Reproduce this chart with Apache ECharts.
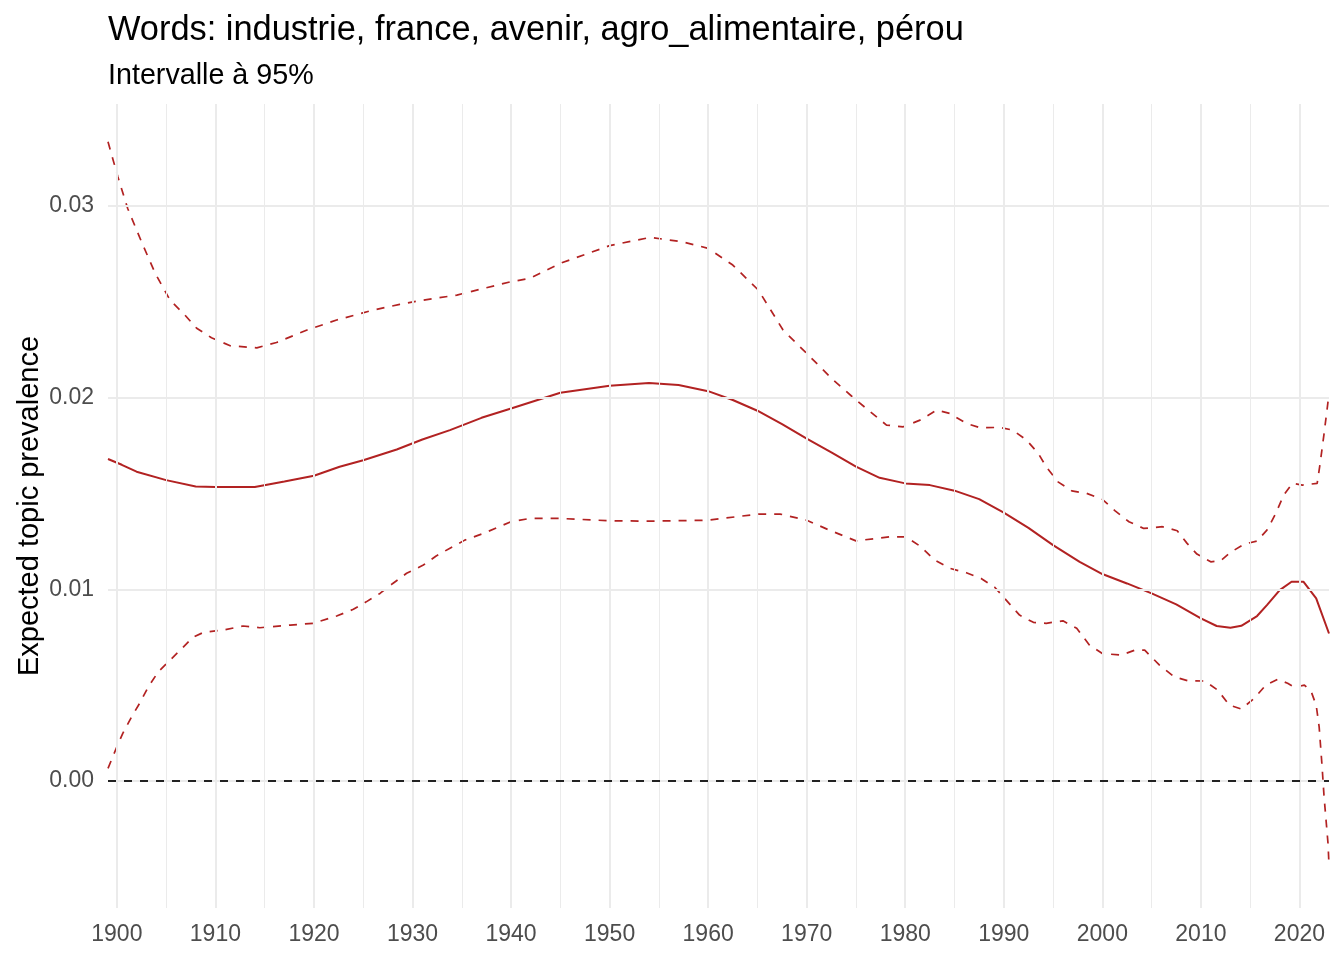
<!DOCTYPE html>
<html><head><meta charset="utf-8">
<script src="https://cdn.jsdelivr.net/npm/echarts@6/dist/echarts.min.js"></script>
<style>html,body{margin:0;padding:0;background:#fff}#c{width:1344px;height:960px}</style>
</head><body><div id="c"></div>
<script>
const meanYears=[1899.1,1900.5,1902,1905,1908,1910,1914,1917,1920,1922.6,1925,1928.4,1931,1933.8,1937,1940,1945,1950,1954,1957,1960,1962.5,1965,1967.5,1970,1972.5,1975,1977.4,1980,1982.5,1985,1987.5,1990,1992.5,1995,1997.7,2000,2002.5,2005,2007.5,2010,2011.6,2013,2014.1,2015.7,2016.7,2018,2019.2,2020.4,2021.7,2023];
const meanVals=[0.01680,0.01650,0.01614,0.01570,0.01537,0.01534,0.01534,0.01563,0.01593,0.01640,0.01674,0.01730,0.01782,0.01831,0.01895,0.01944,0.02026,0.02062,0.02076,0.02066,0.02034,0.01988,0.01932,0.01862,0.01786,0.01715,0.01640,0.01582,0.01553,0.01544,0.01515,0.01471,0.01400,0.01321,0.01231,0.01144,0.01080,0.01031,0.00979,0.00922,0.00849,0.00809,0.00800,0.00810,0.00861,0.00918,0.00996,0.01040,0.01040,0.00953,0.00770];

const upperYears=[1899.1,1900.1,1901.1,1902.5,1903.9,1905.4,1906.9,1908.1,1909.6,1911.5,1914.2,1916.2,1919.3,1922.3,1925.7,1928.7,1931.1,1934.5,1937.2,1940,1941.9,1945,1948,1950,1954.1,1957.4,1960,1962.5,1965.1,1967.6,1970,1972.7,1975,1978.1,1979.8,1981.5,1983.2,1984.5,1986.2,1987.6,1989.6,1990.9,1992.3,1993.5,1994.3,1995.5,1996.9,1998.4,2000,2001.3,2002.7,2004.2,2006.1,2007.6,2008.6,2009.6,2011,2012,2013,2014.4,2015.7,2016.7,2017.6,2018.4,2019.3,2020.3,2021.8,2022.1,2022.5,2023];
const upperVals=[0.03335,0.03152,0.02987,0.02813,0.02648,0.02509,0.02431,0.02362,0.02313,0.02271,0.02260,0.02288,0.02353,0.02405,0.02453,0.02487,0.02509,0.02535,0.02570,0.02605,0.02622,0.02701,0.02756,0.02793,0.02836,0.02813,0.02779,0.02692,0.02561,0.02353,0.02231,0.02092,0.01988,0.01857,0.01848,0.01883,0.01935,0.01918,0.01866,0.01843,0.01845,0.01831,0.01779,0.01709,0.01640,0.01561,0.01514,0.01501,0.01470,0.01410,0.01353,0.01318,0.01327,0.01306,0.01240,0.01184,0.01144,0.01149,0.01193,0.01236,0.01252,0.01309,0.01396,0.01492,0.01553,0.01544,0.01553,0.01657,0.01813,0.02020];

const lowerYears=[1899.1,1900,1900.6,1901.5,1902.3,1903.2,1904.2,1905.4,1906.6,1907.7,1908.8,1910.8,1912.8,1914.5,1917.6,1919.9,1922.3,1924,1925.3,1926.7,1928,1929.4,1931.1,1932.4,1933.8,1935.3,1937.2,1940,1941.9,1945,1950,1954.1,1960,1965.1,1967.3,1970,1972.3,1975,1978.4,1980.1,1981.6,1982.9,1984.5,1986.2,1987.7,1989.1,1990.4,1991.6,1993,1994.3,1996,1997.4,1998.7,2000,2001.9,2003.3,2004.3,2005.8,2007.3,2008.7,2010.4,2011.7,2012.9,2014.1,2015.4,2016.6,2017.8,2018.8,2019.5,2020.5,2021.2,2021.7,2022,2022.3,2022.5,2022.9,2023];
const lowerVals=[0.00066,0.00179,0.00249,0.00336,0.00405,0.00492,0.00570,0.00631,0.00692,0.00750,0.00776,0.00788,0.00809,0.00800,0.00814,0.00823,0.00861,0.00896,0.00935,0.00979,0.01031,0.01084,0.01127,0.01174,0.01215,0.01257,0.01292,0.01353,0.01370,0.01370,0.01358,0.01356,0.01361,0.01393,0.01393,0.01361,0.01309,0.01253,0.01274,0.01274,0.01222,0.01156,0.01110,0.01087,0.01057,0.01010,0.00935,0.00866,0.00828,0.00823,0.00836,0.00797,0.00709,0.00666,0.00657,0.00683,0.00683,0.00605,0.00544,0.00523,0.00522,0.00475,0.00396,0.00376,0.00431,0.00501,0.00531,0.00510,0.00489,0.00501,0.00466,0.00396,0.00283,0.00075,-0.00082,-0.00325,-0.00438];

const xTickLabels=[1900,1910,1920,1930,1940,1950,1960,1970,1980,1990,2000,2010,2020];
const xMinorTicks=[1905,1915,1925,1935,1945,1955,1965,1975,1985,1995,2005,2015];
const yTickLabels=[0,0.01,0.02,0.03];
const yMinorTicks=[-0.005,0.005,0.015,0.025,0.035];

const titleText='Words: industrie, france, avenir, agro_alimentaire, pérou';
const subtitleText='Intervalle à 95%';
const yAxisTitle='Expected topic prevalence';

const FONT='"Liberation Sans", Arial, sans-serif';
const RED='#B22222';
const GRID='#EBEBEB';
const pair=(xs,ys)=>xs.map((x,i)=>[x,ys[i]]);

const gridLines=[]
  .concat(xTickLabels.map(v=>({xAxis:v,lineStyle:{color:GRID,width:2,type:'solid'}})))
  .concat(xMinorTicks.map(v=>({xAxis:v,lineStyle:{color:GRID,width:1,type:'solid'}})))
  .concat(yTickLabels.map(v=>({yAxis:v,lineStyle:{color:GRID,width:2,type:'solid'}})))
  .concat(yMinorTicks.map(v=>({yAxis:v,lineStyle:{color:GRID,width:1,type:'solid'}})));

const chart=echarts.init(document.getElementById('c'),null,{renderer:'canvas'});
chart.setOption({
  animation:false,
  backgroundColor:'#ffffff',
  title:[
    {text:titleText,left:108,top:14,padding:0,textStyle:{fontFamily:FONT,fontSize:34.4,fontWeight:'normal',color:'#000'}},
    {text:subtitleText,left:108,top:62,padding:0,textStyle:{fontFamily:FONT,fontSize:28.7,fontWeight:'normal',color:'#000'}}
  ],
  grid:{left:108,right:15,top:104,bottom:52,containLabel:false,outerBoundsMode:'none'},
  xAxis:{type:'value',min:1899.1,max:2023,
    axisLine:{show:false},axisTick:{show:false},splitLine:{show:false},
    axisLabel:{customValues:xTickLabels,formatter:v=>String(Math.round(v)),color:'#4D4D4D',fontSize:23,fontFamily:FONT,margin:15}},
  yAxis:{type:'value',min:-0.00662,max:0.03532,
    name:yAxisTitle,nameLocation:'middle',nameGap:64,nameMoveOverlap:false,
    nameTextStyle:{fontFamily:FONT,fontSize:29,color:'#000'},
    axisLine:{show:false},axisTick:{show:false},splitLine:{show:false},
    axisLabel:{customValues:yTickLabels,formatter:v=>v.toFixed(2),color:'#4D4D4D',fontSize:23,fontFamily:FONT,margin:14,padding:[4,0,0,0]}},
  series:[
    {type:'line',name:'grid',data:[],z:1,silent:true,
      markLine:{silent:true,symbol:'none',animation:false,label:{show:false},data:gridLines}},
    {type:'line',name:'zero',data:[],z:2,silent:true,
      markLine:{silent:true,symbol:'none',animation:false,label:{show:false},
        data:[{yAxis:0,lineStyle:{color:'#000',width:1.7,type:[8,8]}}]}},
    {type:'line',name:'upper',data:pair(upperYears,upperVals),z:3,showSymbol:false,
      lineStyle:{color:RED,width:1.7,type:[8,8]}},
    {type:'line',name:'lower',data:pair(lowerYears,lowerVals),z:3,showSymbol:false,
      lineStyle:{color:RED,width:1.7,type:[8,8]}},
    {type:'line',name:'mean',data:pair(meanYears,meanVals),z:4,showSymbol:false,
      lineStyle:{color:RED,width:2,type:'solid'}}
  ]
});
</script></body></html>
